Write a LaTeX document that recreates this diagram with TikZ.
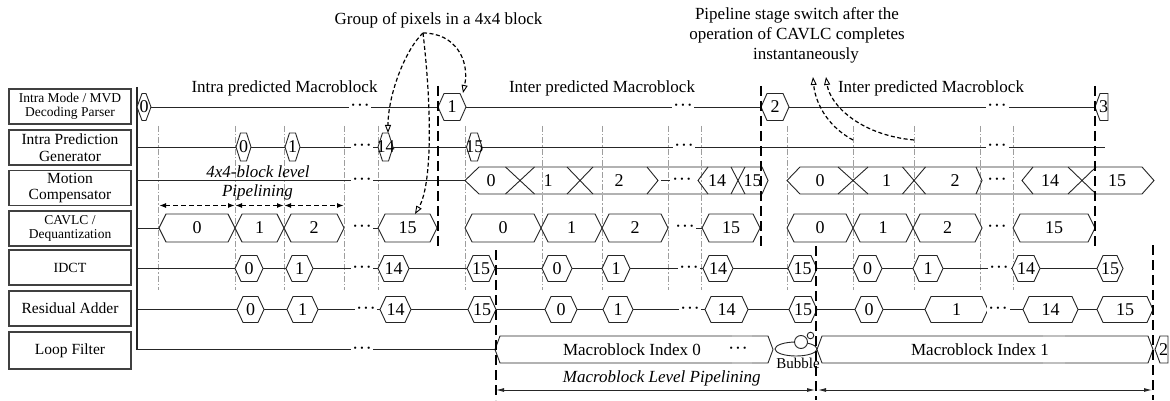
\documentclass[tikz,border=0pt]{standalone}
\usepackage{fontspec}
\setmainfont{Liberation Serif}
\usetikzlibrary{arrows.meta}
\newcommand\myfs{\fontsize{13.5}{13.5}\selectfont}
\newcommand\myfb{\fontsize{15.5}{16.5}\selectfont}
\newcommand\myfn{\fontsize{18}{18}\selectfont}
\newcommand\myfd{\fontsize{19}{19}\selectfont}
\newcommand\myfa{\fontsize{17}{20}\selectfont}
\newcommand\myfi{\fontsize{14}{14}\selectfont}
\newcommand{\hexcell}[8][]{%
  \draw[hexs,#1] (#3,#5) -- ({#3+#7},{#5-#6}) -- ({#4-#7},{#5-#6}) -- (#4,#5) -- ({#4-#7},{#5+#6}) -- ({#3+#7},{#5+#6}) -- cycle;
  \node[numt] (#2) at ({(#3+#4)/2},#5) {#8};}
\newcommand{\dotsnode}[3]{\node[dotsn] (#1) at (#2,{#3+4.8}) {·\kern0.5pt·\kern0.5pt·};}
\begin{document}
\begin{tikzpicture}[x=1pt,y=-1pt,
  lab/.style={draw=black!75,line width=1.4pt,minimum width=122pt,minimum height=35pt,align=center,inner sep=0pt},
  hexs/.style={draw=black!85,line width=0.9pt,fill=white},
  bus/.style={draw=black!85,line width=0.9pt},
  numt/.style={font=\myfn,inner sep=0pt},
  rowl/.style={draw=black!85,line width=0.9pt},
  axisl/.style={draw=black!85,line width=1.3pt},
  dotsn/.style={font=\myfd,fill=white,inner xsep=1.5pt,inner ysep=1pt,anchor=base},
  grayv/.style={draw=black!38,line width=0.9pt,dash pattern=on 6pt off 2pt on 1.5pt off 2pt},
  mbdash/.style={draw=black,line width=1.8pt,dash pattern=on 10pt off 5pt},
  anno/.style={draw=black,line width=1.2pt,dash pattern=on 4pt off 2.5pt,-{Triangle[open,length=8pt,width=6pt,line width=0.9pt]}},
  pdarrow/.style={draw=black,line width=1.4pt,dash pattern=on 5pt off 3pt,{Latex[length=7pt,width=5pt]}-{Latex[length=7pt,width=5pt]}},
  mbarrow/.style={draw=black!85,line width=0.9pt,{Latex[length=8pt,width=4pt]}-{Latex[length=8pt,width=4pt]}},
  txt/.style={font=\myfa,inner sep=0pt,anchor=base}
]
\useasboundingbox (0,0) rectangle (1170,401);

% gray dash-dot guides
\foreach \gx in {158,235,284,344,378,465,542,602,668,701,787,853,914,980,1013}
  \draw[grayv] (\gx,126) -- (\gx,290);

% stage labels
\node[lab,font=\myfs] (L1) at (70,106.5) {Intra Mode / MVD\\Decoding Parser};
\node[lab,font=\myfb] (L2) at (70,147.5) {Intra Prediction\\Generator};
\node[lab,font=\myfb] (L3) at (70,188) {Motion\\Compensator};
\node[lab,font=\myfs] (L4) at (70,228.5) {CAVLC /\\Dequantization};
\node[lab,font=\myfi] (L5) at (70,267.5) {IDCT};
\node[lab,font=\myfb] (L6) at (70,308.5) {Residual Adder};
\node[lab,font=\myfb,minimum height=37pt] (L7) at (70,350.5) {Loop Filter};

% axis and row lines
\draw[axisl] (137,87) -- (137,349.5) -- (495,349.5);
\draw[rowl] (151,107) -- (1095,107);
\draw[rowl] (137,147) -- (1105,147);
\draw[rowl] (137,180.5) -- (465,180.5);
\draw[rowl] (137,228) -- (159,228) (371,228) -- (378,228) (694,228) -- (702,228);
\draw[rowl] (137,268.5) -- (1097,268.5);
\draw[rowl] (137,309.5) -- (1097,309.5);

% row 1
\hexcell{r1h0}{137}{151}{107}{13.5}{5}{0}
\hexcell{r1h1}{438}{466}{107}{13.5}{6}{1}
\hexcell{r1h2}{761}{789}{107}{13.5}{6}{2}
\draw[hexs] (1095,107) -- (1100,93.5) -- (1108,93.5) -- (1108,120.5) -- (1100,120.5) -- cycle;
\node[numt] (r1h3) at (1103.5,107) {3};
\dotsnode{r1d1}{360}{107}
\dotsnode{r1d2}{683}{107}
\dotsnode{r1d3}{997}{107}

% row 2
\hexcell{r2h0}{236}{251}{147}{14}{4.5}{0}
\hexcell{r2h1}{285}{300}{147}{14}{4.5}{1}
\hexcell{r2h14}{378}{393}{147}{14}{4.5}{14}
\hexcell{r2h15}{466.5}{482}{147}{14}{4.5}{15}
\dotsnode{r2d1}{362}{147}
\dotsnode{r2d2}{684}{147}
\dotsnode{r2d3}{997}{147}

% row 3 (bus)
\dotsnode{r3d0}{362}{180.5}
\draw[bus] (465,180.5) -- (479,167) -- (762,167) -- (768,180.5) -- (762,194) -- (479,194) -- cycle;
\draw[bus] (505.5,167) -- (534.5,194) (505.5,194) -- (534.5,167);
\draw[bus] (567,167) -- (593,194) (567,194) -- (593,167);
\draw[bus] (647,167) -- (658,180.5) -- (647,194);
\draw[bus] (708,167) -- (698,180.5) -- (708,194);
\draw[bus] (731,167) -- (745,194) (731,194) -- (745,167);
\draw[bus] (661,180.5) -- (670,180.5);
\dotsnode{r3d1}{682}{180.5}
\node[numt] (r3a0) at (491,180.5) {0};
\node[numt] (r3a1) at (548,180.5) {1};
\node[numt] (r3a2) at (619,180.5) {2};
\node[numt] (r3a14) at (717,180.5) {14};
\node[numt] (r3a15) at (752.5,180.5) {15};
\draw[bus] (787,180.5) -- (800,167) -- (1142,167) -- (1154,180.5) -- (1142,194) -- (800,194) -- cycle;
\draw[bus] (838,167) -- (868,194) (838,194) -- (868,167);
\draw[bus] (902.5,167) -- (925.5,194) (902.5,194) -- (925.5,167);
\draw[bus] (976,167) -- (982,180.5) -- (976,194);
\draw[bus] (1033,167) -- (1022,180.5) -- (1033,194);
\draw[bus] (1068,167) -- (1096,194) (1068,194) -- (1096,167);
\dotsnode{r3d2}{997}{180.5}
\node[numt] (r3b0) at (820,180.5) {0};
\node[numt] (r3b1) at (886.5,180.5) {1};
\node[numt] (r3b2) at (955,180.5) {2};
\node[numt] (r3b14) at (1050,180.5) {14};
\node[numt] (r3b15) at (1117,180.5) {15};

% row 4
\hexcell{r4a0}{159}{235}{228}{14}{7}{0}
\hexcell{r4a1}{235}{284}{228}{14}{7}{1}
\hexcell{r4a2}{284}{344}{228}{14}{7}{2}
\hexcell{r4a15}{378}{437}{228}{14}{7}{15}
\hexcell{r4b0}{465}{541}{228}{14}{7}{0}
\hexcell{r4b1}{541}{602}{228}{14}{7}{1}
\hexcell{r4b2}{602}{668}{228}{14}{7}{2}
\hexcell{r4b15}{702}{760}{228}{14}{7}{15}
\hexcell{r4c0}{787}{853}{228}{14}{7}{0}
\hexcell{r4c1}{853}{913}{228}{14}{7}{1}
\hexcell{r4c2}{913}{982}{228}{14}{7}{2}
\hexcell{r4c15}{1013}{1095}{228}{14}{7}{15}
\dotsnode{r4d1}{362}{228}
\dotsnode{r4d2}{685}{228}
\dotsnode{r4d3}{997}{228}

% row 5
\hexcell{r5a0}{235}{263}{268.5}{13}{6}{0}
\hexcell{r5a1}{286}{313}{268.5}{13}{6}{1}
\hexcell{r5a14}{378}{409}{268.5}{13}{6}{14}
\hexcell{r5a15}{467}{495}{268.5}{13}{6}{15}
\hexcell{r5b0}{542}{572}{268.5}{13}{6}{0}
\hexcell{r5b1}{602}{630}{268.5}{13}{6}{1}
\hexcell{r5b14}{703}{733}{268.5}{13}{6}{14}
\hexcell{r5b15}{788}{817}{268.5}{13}{6}{15}
\hexcell{r5c0}{853}{882}{268.5}{13}{6}{0}
\hexcell{r5c1}{913}{943}{268.5}{13}{6}{1}
\hexcell{r5c14}{1012}{1040}{268.5}{13}{6}{14}
\hexcell{r5c15}{1097}{1123}{268.5}{13}{6}{15}
\dotsnode{r5d1}{362}{268.5}
\dotsnode{r5d2}{689}{268.5}
\dotsnode{r5d3}{999}{268.5}

% row 6
\hexcell{r6a0}{237}{264}{309.5}{13}{6}{0}
\hexcell{r6a1}{287}{318}{309.5}{13}{6}{1}
\hexcell{r6a14}{380}{411}{309.5}{13}{6}{14}
\hexcell{r6a15}{468}{496}{309.5}{13}{6}{15}
\hexcell{r6b0}{545}{577}{309.5}{13}{6}{0}
\hexcell{r6b1}{603}{633}{309.5}{13}{6}{1}
\hexcell{r6b14}{705}{748}{309.5}{13}{6}{14}
\hexcell{r6b15}{789}{817}{309.5}{13}{6}{15}
\hexcell{r6c0}{855}{883}{309.5}{13}{6}{0}
\hexcell{r6c1}{925}{988}{309.5}{13}{6}{1}
\hexcell{r6c14}{1023}{1078}{309.5}{13}{6}{14}
\hexcell{r6c15}{1097}{1153}{309.5}{13}{6}{15}
\dotsnode{r6d1}{366}{309.5}
\dotsnode{r6d2}{690}{309.5}
\dotsnode{r6d3}{998}{309.5}

% row 7
\dotsnode{r7d0}{362}{349.5}
\hexcell{r7mb0}{495}{773}{349.5}{13.5}{5}{}
\draw[black!25,line width=1.2pt] (732,336) -- (752,336) (732,363) -- (752,363);
\node[txt] (mb0t) at (632,355) {Macroblock Index 0};
\dotsnode{mb0d}{738}{349.5}
\draw[bus,fill=white] (796,349) ellipse [x radius=21, y radius=7];
\draw[bus,fill=white] (801,342) circle [radius=6.5];
\draw[bus,fill=white] (810.5,335.5) circle [radius=3.3];
\node[txt,font=\fontsize{15}{15}\selectfont] (bub) at (798,368) {Bubble};
\hexcell{r7mb1}{817}{1153}{349.5}{13.5}{5}{}
\draw[black!25,line width=1.2pt] (1043,336) -- (1065,336) (1043,363) -- (1065,363);
\node[txt] (mb1t) at (980,355) {Macroblock Index 1};
\draw[hexs] (1155,349.5) -- (1160,336) -- (1168,336) -- (1168,363) -- (1160,363) -- cycle;
\node[numt] (r7h2) at (1163.5,349.5) {2};

% macroblock boundaries
\draw[mbdash] (438,86) -- (438,250);
\draw[mbdash] (761,86) -- (761,250);
\draw[mbdash] (1095,86) -- (1095,250);
\draw[mbdash] (496,250) -- (496,400);
\draw[mbdash] (816,246) -- (816,400);
\draw[mbdash] (1153,245) -- (1153,400);

% texts
\node[txt] (grp) at (438.5,25) {Group of pixels in a 4x4 block};
\node[txt] (ps1t) at (797,19.5) {Pipeline stage switch after the};
\node[txt] (ps2t) at (797,40) {operation of CAVLC completes};
\node[txt] (ps3t) at (806,60) {instantaneously};
\node[txt] (intra) at (284.5,92.7) {Intra predicted Macroblock};
\node[txt] (inter1) at (602,92.7) {Inter predicted Macroblock};
\node[txt] (inter2) at (931,92.7) {Inter predicted Macroblock};
\node[txt,font=\myfa\itshape] (bl1) at (258,177) {4x4-block level};
\node[txt,font=\myfa\itshape] (bl2) at (257.5,196) {Pipelining};
\node[txt,font=\myfa\itshape] (mbl) at (661.7,382) {Macroblock Level Pipelining};

% pipelining arrows
\coordinate (pp0) at (159,205.5);
\coordinate (pp1) at (235,205.5);
\coordinate (pp2) at (284,205.5);
\coordinate (pp3) at (344,205.5);
\draw[pdarrow] (pp0) -- (pp1);
\draw[pdarrow] (pp1) -- (pp2);
\draw[pdarrow] (pp2) -- (pp3);

\coordinate (ml0) at (496,390);
\coordinate (ml1) at (815,390);
\coordinate (ml2) at (818,390);
\coordinate (ml3) at (1152,390);
\draw[mbarrow] (ml0) -- (ml1);
\draw[mbarrow] (ml2) -- (ml3);

% annotation arrows
\coordinate (gsrc) at (423,33);
\coordinate (g14) at (388,133);
\coordinate (g1) at (463,93);
\coordinate (g15) at (415,214);
\draw[anno] (gsrc) .. controls (405,50) and (388,95) .. (g14);
\draw[anno] (gsrc) .. controls (455,33) and (470,60) .. (g1);
\draw[anno] (gsrc) .. controls (432,110) and (432,185) .. (g15);
\coordinate (ps1) at (853,140);
\coordinate (pt1) at (813,77);
\coordinate (ps2) at (914,140);
\coordinate (pt2) at (826,77);
\draw[anno] (ps1) .. controls (825,125) and (815,100) .. (pt1);
\draw[anno] (ps2) .. controls (860,135) and (830,105) .. (pt2);
\end{tikzpicture}
\end{document}
